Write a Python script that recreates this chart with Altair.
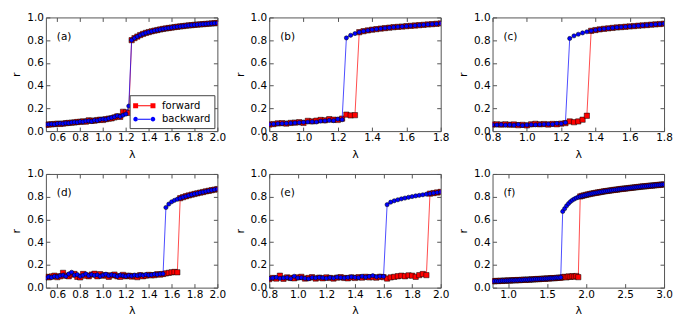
import altair as alt
import pandas as pd

# ---------------- data ----------------
XE = [0.8, 0.825, 0.85, 0.875, 0.9, 0.925, 0.95, 0.975, 1.0, 1.025, 1.05, 1.075,
      1.1, 1.125, 1.15, 1.175, 1.2, 1.225, 1.25, 1.275, 1.3, 1.325, 1.35, 1.375,
      1.4, 1.425, 1.45, 1.475, 1.5, 1.525, 1.55, 1.575, 1.6, 1.625, 1.65, 1.675,
      1.7, 1.725, 1.75, 1.775, 1.8, 1.825, 1.85, 1.875, 1.9, 1.925, 1.95, 1.975, 2.0]
XB = XE[:41]
XA = [0.5, 0.525, 0.55, 0.575, 0.6, 0.625, 0.65, 0.675, 0.7, 0.725, 0.75, 0.775] + XE
XF = XE + [2.025, 2.05, 2.075, 2.1, 2.125, 2.15, 2.175, 2.2, 2.225, 2.25, 2.275, 2.3,
           2.325, 2.35, 2.375, 2.4, 2.425, 2.45, 2.475, 2.5, 2.525, 2.55, 2.575, 2.6,
           2.625, 2.65, 2.675, 2.7, 2.725, 2.75, 2.775, 2.8, 2.825, 2.85, 2.875, 2.9,
           2.925, 2.95, 2.975, 3.0]

# panel (a)
A_FWD_LOW = [0.055, 0.058, 0.060, 0.062, 0.065, 0.063, 0.066, 0.070, 0.072, 0.074,
             0.076, 0.080, 0.082, 0.085, 0.083, 0.095, 0.090, 0.092, 0.097, 0.100,
             0.098, 0.105, 0.110, 0.112, 0.120, 0.130, 0.125, 0.170, 0.165, 0.160]
A_BWD_LOW = [0.058, 0.060, 0.062, 0.060, 0.066, 0.068, 0.065, 0.071, 0.070, 0.076,
             0.078, 0.077, 0.084, 0.082, 0.088, 0.090, 0.085, 0.095, 0.093, 0.102,
             0.105, 0.103, 0.112, 0.118, 0.125, 0.135, 0.128, 0.140, 0.150, 0.220]
A_UP = [0.800, 0.818, 0.832, 0.845, 0.855, 0.864, 0.871, 0.878, 0.884, 0.889, 0.894,
        0.899, 0.903, 0.907, 0.911, 0.915, 0.918, 0.921, 0.924, 0.927, 0.930, 0.932,
        0.935, 0.937, 0.939, 0.941, 0.943, 0.945, 0.947, 0.949, 0.951]
# panel (b)
B_FWD_LOW = [0.058, 0.062, 0.068, 0.070, 0.066, 0.072, 0.075, 0.078, 0.072, 0.090,
             0.085, 0.092, 0.098, 0.095, 0.105, 0.100, 0.098, 0.110, 0.145, 0.138, 0.140]
B_BWD_LOW = [0.060, 0.062, 0.065, 0.066, 0.068, 0.070, 0.072, 0.075, 0.077, 0.080,
             0.082, 0.080, 0.088, 0.090, 0.094, 0.092, 0.105, 0.100]
B_UP = [0.820, 0.843, 0.858, 0.870, 0.879, 0.886, 0.892, 0.897, 0.902, 0.906, 0.910,
        0.914, 0.917, 0.920, 0.923, 0.926, 0.929, 0.932, 0.935, 0.938, 0.941, 0.944, 0.947]
# panel (c)
C_FWD_LOW = [0.058, 0.060, 0.057, 0.060, 0.056, 0.058, 0.052, 0.055, 0.050, 0.060,
             0.064, 0.060, 0.062, 0.058, 0.063, 0.060, 0.066, 0.070, 0.085, 0.078,
             0.085, 0.100, 0.135]
C_BWD_LOW = [0.055, 0.054, 0.056, 0.053, 0.055, 0.052, 0.058, 0.050, 0.054, 0.056,
             0.055, 0.058, 0.060, 0.062, 0.060, 0.068, 0.065, 0.075]
C_UP = [0.815, 0.838, 0.852, 0.864, 0.874, 0.882, 0.889, 0.895, 0.900, 0.904, 0.908,
        0.912, 0.915, 0.918, 0.921, 0.924, 0.927, 0.930, 0.933, 0.936, 0.939, 0.942, 0.945]
# panel (d)
D_FWD_LOW = [0.095, 0.090, 0.098, 0.105, 0.092, 0.100, 0.130, 0.105, 0.100, 0.115,
             0.120, 0.095, 0.090, 0.120, 0.105, 0.100, 0.115, 0.122, 0.100, 0.118,
             0.105, 0.110, 0.095, 0.108, 0.115, 0.100, 0.095, 0.112, 0.100, 0.105,
             0.098, 0.102, 0.092, 0.110, 0.100, 0.105, 0.112, 0.108, 0.110, 0.118,
             0.115, 0.120, 0.125, 0.130, 0.135, 0.138, 0.135]
D_BWD_LOW = [0.085, 0.095, 0.090, 0.100, 0.095, 0.105, 0.110, 0.100, 0.120, 0.135,
             0.110, 0.115, 0.100, 0.110, 0.120, 0.105, 0.115, 0.108, 0.112, 0.100,
             0.110, 0.118, 0.105, 0.112, 0.108, 0.100, 0.110, 0.105, 0.100, 0.108,
             0.102, 0.110, 0.105, 0.112, 0.108, 0.115, 0.110, 0.112, 0.118, 0.115,
             0.120, 0.122]
D_UP = [0.705, 0.735, 0.755, 0.768, 0.778, 0.787, 0.796, 0.804, 0.811, 0.818, 0.824,
        0.830, 0.836, 0.841, 0.847, 0.852, 0.857, 0.862, 0.867]
# panel (e)
E_FWD_LOW = [0.075, 0.085, 0.080, 0.105, 0.078, 0.090, 0.085, 0.082, 0.090, 0.095,
             0.080, 0.085, 0.092, 0.080, 0.088, 0.082, 0.090, 0.085, 0.080, 0.088,
             0.092, 0.085, 0.082, 0.090, 0.085, 0.092, 0.088, 0.095, 0.090, 0.092,
             0.088, 0.095, 0.092, 0.080, 0.090, 0.095, 0.100, 0.105, 0.100, 0.108,
             0.105, 0.095, 0.110, 0.120, 0.110]
E_BWD_LOW = [0.080, 0.085, 0.090, 0.082, 0.085, 0.088, 0.080, 0.100, 0.085, 0.088,
             0.082, 0.078, 0.088, 0.085, 0.090, 0.086, 0.082, 0.088, 0.084, 0.092,
             0.088, 0.085, 0.090, 0.094, 0.090, 0.088, 0.100, 0.092, 0.098, 0.105,
             0.095, 0.100, 0.098]
E_UP = [0.730, 0.752, 0.764, 0.773, 0.781, 0.788, 0.795, 0.801, 0.807, 0.812, 0.817,
        0.822, 0.827, 0.832, 0.837, 0.842]
# panel (f)
F_FWD_LOW = [0.057, 0.056, 0.059, 0.058, 0.060, 0.059, 0.062, 0.061, 0.063, 0.062,
             0.064, 0.066, 0.064, 0.067, 0.066, 0.068, 0.070, 0.068, 0.071, 0.070,
             0.073, 0.072, 0.074, 0.076, 0.075, 0.077, 0.079, 0.078, 0.081, 0.080,
             0.083, 0.084, 0.083, 0.086, 0.088, 0.087, 0.092, 0.095, 0.090, 0.098,
             0.095, 0.100, 0.097, 0.102, 0.092]
F_BWD_LOW = [0.055, 0.057, 0.058, 0.056, 0.059, 0.061, 0.060, 0.062, 0.061, 0.063,
             0.065, 0.063, 0.066, 0.065, 0.068, 0.066, 0.069, 0.070, 0.069, 0.072,
             0.071, 0.073, 0.075, 0.074, 0.076, 0.078, 0.077, 0.080, 0.079, 0.082,
             0.083, 0.082, 0.085, 0.087, 0.086, 0.090]
F_UP = [0.670, 0.695, 0.720, 0.740, 0.757, 0.770, 0.780, 0.789, 0.796, 0.802, 0.807,
        0.812, 0.816, 0.820, 0.824, 0.828, 0.831, 0.834, 0.837, 0.840, 0.843, 0.846,
        0.849, 0.851, 0.854, 0.856, 0.859, 0.861, 0.863, 0.866, 0.868, 0.870, 0.872,
        0.874, 0.876, 0.878, 0.880, 0.882, 0.884, 0.886, 0.888, 0.890, 0.891, 0.893,
        0.895, 0.897, 0.898, 0.900, 0.902, 0.903, 0.905, 0.907, 0.908]

TICKS_A = [0.6, 0.8, 1.0, 1.2, 1.4, 1.6, 1.8, 2.0]
TICKS_B = [0.8, 1.0, 1.2, 1.4, 1.6, 1.8]
TICKS_E = [0.8, 1.0, 1.2, 1.4, 1.6, 1.8, 2.0]
TICKS_F = [1.0, 1.5, 2.0, 2.5, 3.0]
Y_TICKS = [0.0, 0.2, 0.4, 0.6, 0.8, 1.0]
SERIES = ["forward", "backward"]

# ---------------- styling ----------------
FONT = "DejaVu Sans"
RED = "#ff0000"
BLUE = "#0000ff"
FRAME = "#555555"
LEG_BOX = "#444444"
# legend handles (matplotlib style: a line with a marker at each end),
# drawn in symbol units where 1 unit = 7 px (symbolSize 196)
PATH_SQ = ("M-1,-0.357L-0.286,-0.357L-0.286,-0.071L1.486,-0.071L1.486,-0.357L2.2,-0.357"
           "L2.2,0.357L1.486,0.357L1.486,0.071L-0.286,0.071L-0.286,0.357L-1,0.357Z")
PATH_CI = ("M-0.97,0A0.327,0.327,0,1,0,-0.316,0A0.327,0.327,0,1,0,-0.97,0Z"
           "M1.516,0A0.327,0.327,0,1,0,2.17,0A0.327,0.327,0,1,0,1.516,0Z"
           "M-0.36,-0.071L1.56,-0.071L1.56,0.071L-0.36,0.071Z")


def full(low, up, n):
    """lower branch followed by the shared upper branch"""
    return low + up[len(up) - (n - len(low)):]


def make_legend():
    return alt.Legend(
        title=None, orient="bottom-right", offset=3,
        symbolSize=196, symbolStrokeWidth=0, symbolOpacity=1,
        labelFont=FONT, labelFontSize=10, labelColor="black", labelOffset=15,
        padding=3.5, rowPadding=1.5, strokeColor=LEG_BOX, fillColor="white",
        cornerRadius=0)


def panel(letter, xs, fwd_low, bwd_low, up, xdom, xticks, xfmt, legend=False):
    n = len(xs)
    fwd = full(fwd_low, up, n)
    bwd = full(bwd_low, up, n)
    assert len(fwd) == n and len(bwd) == n and len(up) == n - len(bwd_low)
    df = pd.DataFrame({"lam": xs + xs, "r": fwd + bwd,
                       "series": ["forward"] * n + ["backward"] * n})
    base = alt.Chart(df)
    xsc = alt.Scale(domain=xdom, nice=False, zero=False)
    ysc = alt.Scale(domain=[0, 1], nice=False, zero=False)
    common = dict(offset=-4, tickSize=4, domain=False, grid=False,
                  tickColor=FRAME, tickWidth=1, labelOverlap=False, labelFlush=False)
    x_bottom = alt.Axis(orient="bottom", values=xticks, format=xfmt, labelPadding=1.5,
                        title="λ", titlePadding=5, **common)
    y_left = alt.Axis(orient="left", values=Y_TICKS, format=".1f", labelPadding=2.5,
                      title="r", titlePadding=5, **common)
    x_top = alt.Axis(orient="top", values=xticks, labels=False, title=None, **common)
    y_right = alt.Axis(orient="right", values=Y_TICKS, labels=False, title=None, **common)

    f = base.transform_filter(alt.datum.series == "forward")
    b = base.transform_filter(alt.datum.series == "backward")
    line_f = f.mark_line(color=RED, strokeWidth=1, opacity=0.7, clip=True).encode(
        x=alt.X("lam:Q", scale=xsc, axis=x_bottom),
        y=alt.Y("r:Q", scale=ysc, axis=y_left))
    pts_f = f.mark_point(shape="square", filled=True, fill=RED, size=28, stroke="black",
                         strokeWidth=0.5, opacity=1, clip=True).encode(
        x=alt.X("lam:Q", axis=None), y=alt.Y("r:Q", axis=None))
    line_b = b.mark_line(color=BLUE, strokeWidth=1, opacity=0.7, clip=True).encode(
        x=alt.X("lam:Q", axis=None), y=alt.Y("r:Q", axis=None))
    pts_b = b.mark_point(shape="circle", filled=True, fill=BLUE, size=18, stroke="black",
                         strokeWidth=0.5, opacity=1, clip=True).encode(
        x=alt.X("lam:Q", axis=x_top), y=alt.Y("r:Q", axis=y_right))
    layers = [line_f, pts_f, line_b, pts_b]
    if legend:
        # legend-only layer (zero-size points) carrying the line+marker handles
        leg = base.mark_point(filled=True, size=0).encode(
            x=alt.X("lam:Q", axis=None), y=alt.Y("r:Q", axis=None),
            color=alt.Color("series:N", scale=alt.Scale(domain=SERIES, range=[RED, BLUE]),
                            legend=make_legend()),
            shape=alt.Shape("series:N",
                            scale=alt.Scale(domain=SERIES, range=[PATH_SQ, PATH_CI]),
                            legend=make_legend()))
        layers.append(leg)
    return alt.layer(*layers).resolve_axis(
        x="independent", y="independent").properties(
        width=172, height=114,
        title=alt.TitleParams(letter, anchor="start", frame="group", offset=-38, dx=11,
                              fontSize=10.5, fontWeight="normal", font=FONT,
                              color="black", baseline="alphabetic"))


pa = panel("(a)", XA, A_FWD_LOW, A_BWD_LOW, A_UP, [0.5, 2.0], TICKS_A, ".1f", legend=True)
pb = panel("(b)", XB, B_FWD_LOW, B_BWD_LOW, B_UP, [0.8, 1.8], TICKS_B, ".1f")
pc = panel("(c)", XB, C_FWD_LOW, C_BWD_LOW, C_UP, [0.8, 1.8], TICKS_B, ".1f")
pd_ = panel("(d)", XA, D_FWD_LOW, D_BWD_LOW, D_UP, [0.5, 2.0], TICKS_A, ".1f")
pe = panel("(e)", XE, E_FWD_LOW, E_BWD_LOW, E_UP, [0.8, 2.0], TICKS_E, ".1f")
pf = panel("(f)", XF, F_FWD_LOW, F_BWD_LOW, F_UP, [0.8, 3.0], TICKS_F, ".1f")

chart = alt.concat(pa, pb, pc, pd_, pe, pf, columns=3,
                   spacing={"row": 43, "column": 52}, bounds="flush").resolve_scale(
    color="independent", shape="independent").properties(
    padding={"left": 2, "top": 3, "right": 2, "bottom": 2}
).configure_view(stroke=FRAME, strokeWidth=1).configure_axis(
    labelFont=FONT, titleFont=FONT, labelFontSize=10.5, titleFontSize=11,
    titleFontWeight="normal", labelColor="black", titleColor="black"
).configure_legend(strokeColor=LEG_BOX, strokeWidth=1, fillColor="white",
                   cornerRadius=0, padding=3.5)

chart.save("out.html", embed_options={"renderer": "svg", "actions": False})
